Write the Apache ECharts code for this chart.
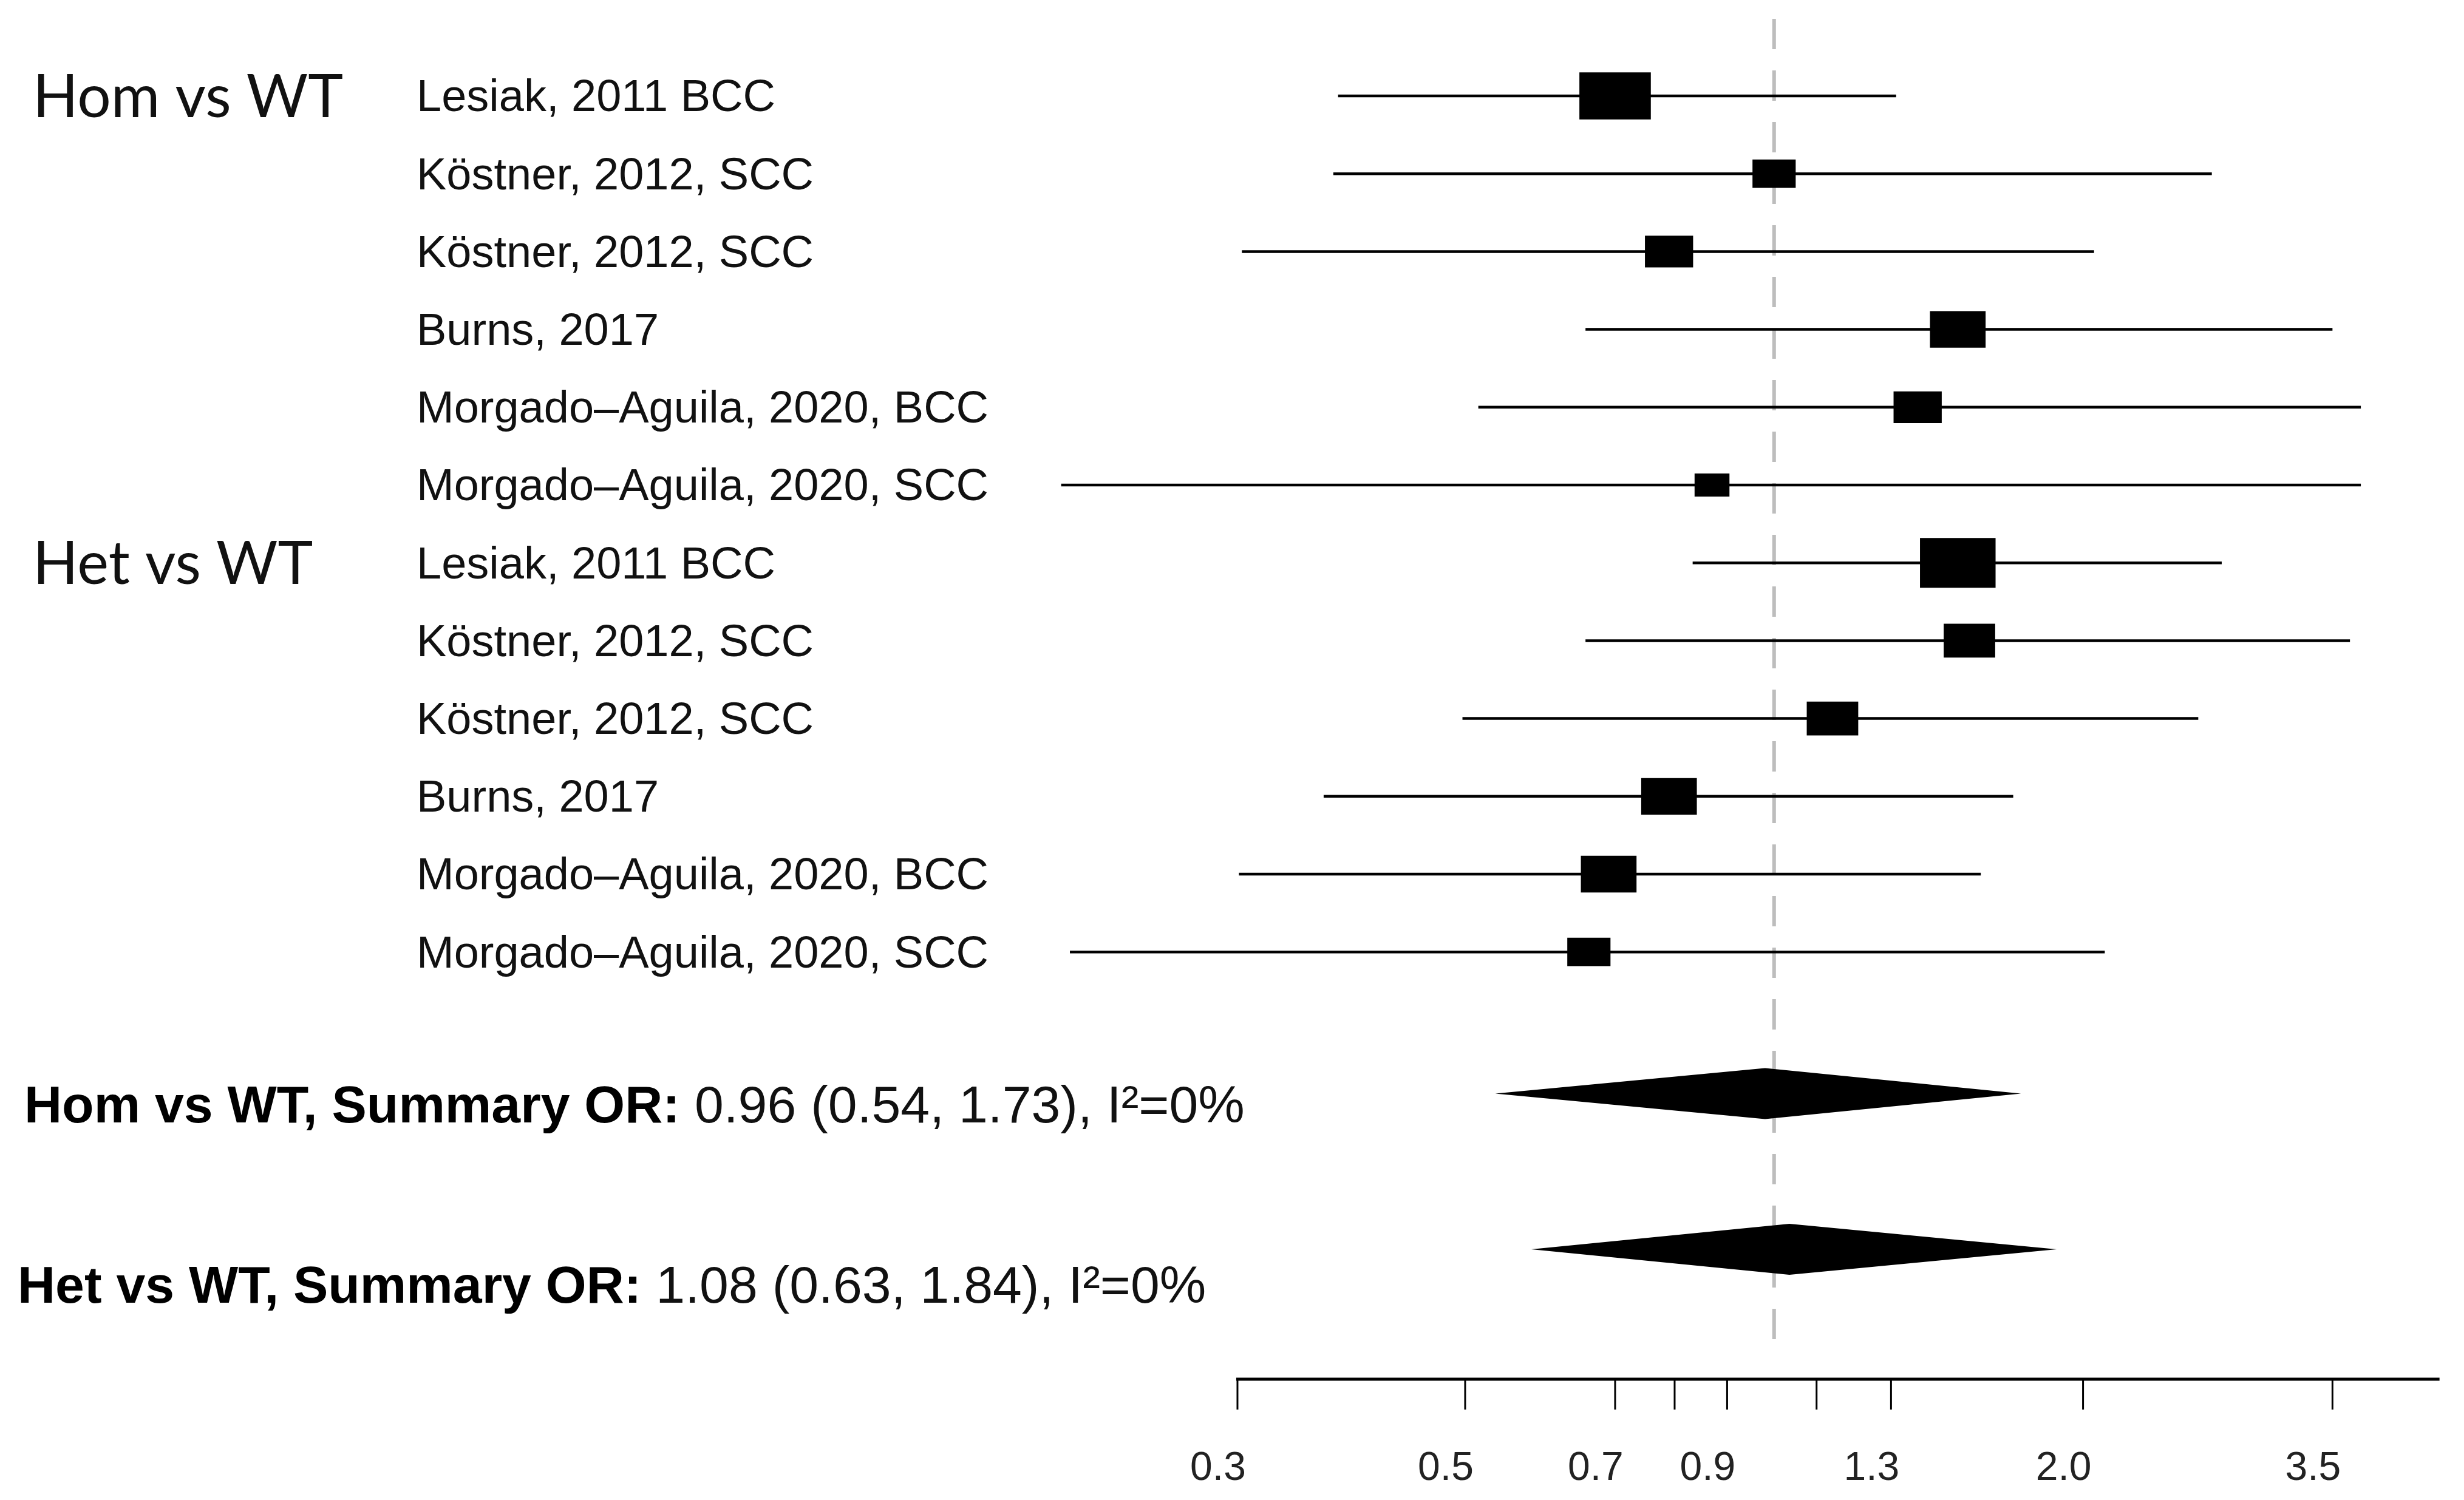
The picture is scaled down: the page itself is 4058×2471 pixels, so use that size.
<!DOCTYPE html>
<html><head><meta charset="utf-8">
<script src="https://cdn.jsdelivr.net/npm/echarts@6/dist/echarts.min.js"></script>
<style>html,body{margin:0;padding:0;background:#fff}#c{width:4058px;height:2471px}</style>
</head><body><div id="c"></div>
<script>
// ---------------- data ----------------
const groupLabels = ["Hom vs WT", "Het vs WT"];
const studyLabels = [
  "Lesiak, 2011 BCC", "Köstner, 2012, SCC", "Köstner, 2012, SCC", "Burns, 2017",
  "Morgado–Aguila, 2020, BCC", "Morgado–Aguila, 2020, SCC",
  "Lesiak, 2011 BCC", "Köstner, 2012, SCC", "Köstner, 2012, SCC", "Burns, 2017",
  "Morgado–Aguila, 2020, BCC", "Morgado–Aguila, 2020, SCC"
];
const studyGroup = [0,0,0,0,0,0,1,1,1,1,1,1];
const orEstimate = [0.70, 1.00, 0.79, 1.51, 1.38, 0.87, 1.51, 1.55, 1.14, 0.79, 0.69, 0.66];
const orLower    = [0.376, 0.372, 0.303, 0.655, 0.515, 0.202, 0.833, 0.655, 0.497, 0.364, 0.301, 0.206];
const orUpper    = [1.315, 2.67, 2.05, 3.50, 3.73, 3.73, 2.73, 3.64, 2.59, 1.71, 1.59, 2.10];
const studyWeight = [8.6, 5.2, 5.8, 6.7, 5.8, 4.2, 9.1, 6.2, 6.2, 6.7, 6.7, 5.2];

const summaryNames = ["Hom vs WT, Summary OR:", "Het vs WT, Summary OR:"];
const summaryStats = ["0.96 (0.54, 1.73), I²=0%", "1.08 (0.63, 1.84), I²=0%"];
const summaryEst   = [0.98, 1.035];
const summaryLower = [0.535, 0.58];
const summaryUpper = [1.74, 1.885];

const tickValues = [0.3, 0.5, 0.7, 0.8, 0.9, 1.1, 1.3, 2.0, 3.5];
const tickLabels = ["0.3", "0.5", "0.7", "", "0.9", "", "1.3", "2.0", "3.5"];
const axisRange = [0.3, 4.45];
const refValue = 1;

// ---------------- layout ----------------
const U = 128.2, Y0 = 158;               // px per row, first row px
const rowSummary = [12.82, 14.82];
const summaryTextOffset = [24, 64];
const summaryTextX = [40, 29];
const rowAxis = 16.49;
const refTop = -0.99, refBottom = 16.03;
const LABEL_X = 686, GROUP_X = 54;
const FONT = "'Liberation Sans', Arial, sans-serif";

const chart = echarts.init(document.getElementById('c'), null, {renderer: 'canvas'});

const studyData = orEstimate.map((e, i) => [e, i, orLower[i], orUpper[i], studyWeight[i]]);
const summaryData = summaryEst.map((e, i) => [e, rowSummary[i], summaryLower[i], summaryUpper[i], i]);
const tickData = tickValues.map((v, i) => [v, rowAxis, i]);

chart.setOption({
  animation: false,
  backgroundColor: '#fff',
  grid: {left: 1663, right: 16, top: Y0 - 1.2 * U, bottom: 2471 - (Y0 + 17 * U)},
  xAxis: {type: 'log', logBase: 10, min: 0.18, max: 4.6, show: false},
  yAxis: {type: 'value', inverse: true, min: -1.2, max: 17, show: false},
  series: [
    { // reference dashed line
      type: 'custom', data: [[refValue, 0]], z: 1,
      renderItem: (p, api) => {
        const a = api.coord([api.value(0), refTop]);
        const b = api.coord([api.value(0), refBottom]);
        return {type: 'line', shape: {x1: a[0], y1: a[1], x2: b[0], y2: b[1]},
          style: {stroke: '#bdbdbd', lineWidth: 6, lineDash: [50, 35]}};
      }
    },
    { // studies CI + box
      type: 'custom', data: studyData, z: 2,
      renderItem: (p, api) => {
        const row = api.value(1);
        const e = api.coord([api.value(0), row]);
        const l = api.coord([api.value(2), row]);
        const h = api.coord([api.value(3), row]);
        const bh = api.value(4) * 9, bw = bh * 1.52;
        return {type: 'group', children: [
          {type: 'line', shape: {x1: l[0], y1: e[1], x2: h[0], y2: e[1]}, style: {stroke: '#000', lineWidth: 4.5}},
          {type: 'rect', shape: {x: e[0] - bw / 2, y: e[1] - bh / 2, width: bw, height: bh}, style: {fill: '#000'}}
        ]};
      }
    },
    { // study labels
      type: 'custom', data: studyLabels.map((s, i) => [1, i]), z: 3,
      renderItem: (p, api) => {
        const i = p.dataIndex;
        const y = api.coord([1, api.value(1)])[1];
        const children = [{type: 'text', style: {text: studyLabels[i], x: LABEL_X, y: y + 5,
          fontSize: 74, fontFamily: FONT, fill: '#111', align: 'left', verticalAlign: 'middle'}}];
        if (i === 0 || studyGroup[i] !== studyGroup[i - 1]) {
          children.push({type: 'text', style: {text: groupLabels[studyGroup[i]], x: GROUP_X, y: y + 3,
            fontSize: 98, fontFamily: "Lato, 'Open Sans', sans-serif", fill: '#111', align: 'left', verticalAlign: 'middle'}});
        }
        return {type: 'group', children};
      }
    },
    { // summary diamonds + text
      type: 'custom', data: summaryData, z: 2,
      renderItem: (p, api) => {
        const row = api.value(1), k = api.value(4);
        const e = api.coord([api.value(0), row]);
        const l = api.coord([api.value(2), row]);
        const h = api.coord([api.value(3), row]);
        const dh = 42;
        return {type: 'group', children: [
          {type: 'polygon', shape: {points: [[l[0], e[1]], [e[0], e[1] - dh], [h[0], e[1]], [e[0], e[1] + dh]]},
            style: {fill: '#000'}},
          {type: 'text', style: {
            text: '{b|' + summaryNames[k] + ' }{r|' + summaryStats[k] + '}',
            x: summaryTextX[k], y: e[1] + summaryTextOffset[k], align: 'left', verticalAlign: 'middle',
            rich: {
              b: {fontSize: 86, fontFamily: FONT, fontWeight: 'bold', fill: '#000'},
              r: {fontSize: 86, fontFamily: FONT, fill: '#111'}
            }}}
        ]};
      }
    },
    { // x axis line
      type: 'custom', data: [[axisRange[0], rowAxis, axisRange[1]]], z: 2,
      renderItem: (p, api) => {
        const a = api.coord([api.value(0), api.value(1)]);
        const b = api.coord([api.value(2), api.value(1)]);
        return {type: 'line', shape: {x1: a[0] - 2, y1: a[1], x2: b[0], y2: b[1]}, style: {stroke: '#000', lineWidth: 5}};
      }
    },
    { // ticks + labels
      type: 'custom', data: tickData, z: 2,
      renderItem: (p, api) => {
        const a = api.coord([api.value(0), api.value(1)]);
        const i = api.value(2);
        return {type: 'group', children: [
          {type: 'line', shape: {x1: a[0], y1: a[1], x2: a[0], y2: a[1] + 50}, style: {stroke: '#000', lineWidth: 3}},
          {type: 'text', style: {text: tickLabels[i], x: a[0] - 32, y: a[1] + 148, align: 'center', verticalAlign: 'middle',
            fontSize: 66, fontFamily: FONT, fill: '#222'}}
        ]};
      }
    }
  ]
});
</script></body></html>
